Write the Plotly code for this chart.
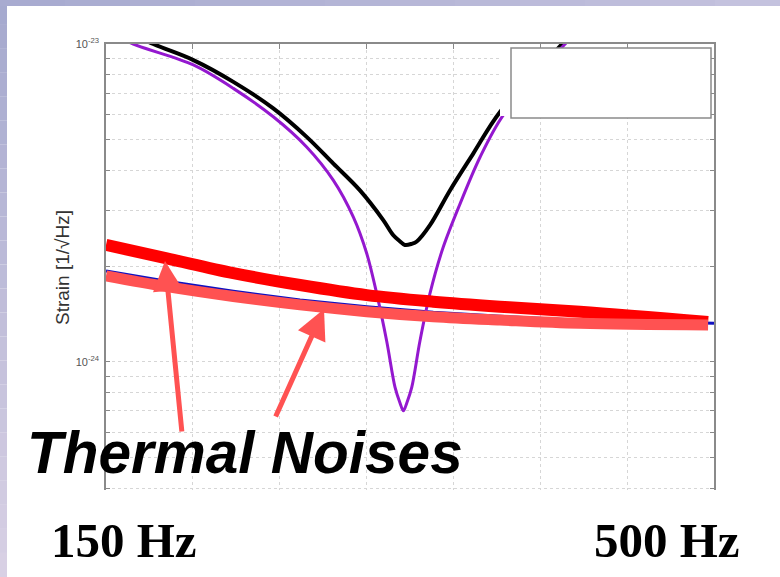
import plotly.graph_objects as go

# ---------------- data ----------------
freq_total = [150, 177.2, 200.3, 223.3, 246.3, 265.5, 280.9, 296.2, 309.6, 315.4, 319.3,
              322.1, 326.0, 328.9, 336.5, 348.0, 361.4, 376.8, 412.5, 430]
strain_total = [1.17e-23, 1.0e-23, 8.9e-24, 7.6e-24, 6.27e-24, 5.1e-24, 4.2e-24, 3.46e-24,
                2.79e-24, 2.5e-24, 2.39e-24, 2.33e-24, 2.35e-24, 2.39e-24, 2.69e-24,
                3.46e-24, 4.52e-24, 6.11e-24, 1.0e-23, 1.3e-23]

freq_notch = [150, 165.7, 200.3, 223.3, 246.3, 265.5, 280.9, 292.4, 300.1, 305.8, 311.6,
              316.4, 319.3, 321.2, 323.1, 326.0, 330.7, 336.5, 344.2, 353.8, 365.3, 378.7,
              414.3, 430]
strain_notch = [1.1e-23, 1.0e-23, 8.59e-24, 7.25e-24, 5.9e-24, 4.74e-24, 3.72e-24, 2.85e-24,
                2.19e-24, 1.64e-24, 1.16e-24, 8.3e-25, 7.4e-25, 7.0e-25, 7.4e-25, 8.3e-25,
                1.16e-24, 1.64e-24, 2.3e-24, 3.14e-24, 4.4e-24, 5.97e-24, 1.0e-23, 1.2e-23]

freq_blue = [150, 185, 223.3, 261.7, 300.1, 338.4, 376.8, 422.9, 500]
strain_blue = [1.93e-24, 1.79e-24, 1.665e-24, 1.565e-24, 1.49e-24, 1.43e-24, 1.39e-24,
               1.35e-24, 1.32e-24]

freq_thermal = [150, 185, 223.3, 261.7, 300.1, 338.4, 376.8, 422.9, 496.6]
thermal_upper = [2.33e-24, 2.115e-24, 1.90e-24, 1.743e-24, 1.62e-24, 1.545e-24, 1.49e-24,
                 1.436e-24, 1.333e-24]
thermal_lower = [1.862e-24, 1.722e-24, 1.603e-24, 1.509e-24, 1.437e-24, 1.385e-24,
                 1.352e-24, 1.32e-24, 1.304e-24]

x_ticks = [150, 200, 250, 300, 350, 400, 450, 500]
y_ticks = [4e-25, 5e-25, 6e-25, 7e-25, 8e-25, 9e-25, 1e-24, 2e-24, 3e-24, 4e-24,
           5e-24, 6e-24, 7e-24, 8e-24, 9e-24, 1e-23]
y_ticktext = ["", "", "", "", "", "", "10<sup>-24</sup>", "", "", "", "", "", "", "", "",
              "10<sup>-23</sup>"]

y_title = "Strain [1/\u221aHz]"
big_label = "Thermal Noises"
left_label = "150 Hz"
right_label = "500 Hz"

# ---------------- layout geometry ----------------
W, H = 780, 577
L, R, T, B = 106, 714, 44, 490
PW, PH = R - L, B - T


def px(x):
    return (x - L) / PW


def py(y):
    return (B - y) / PH


fig = go.Figure()

fig.add_trace(go.Scatter(x=freq_blue, y=strain_blue, mode="lines",
                         line=dict(color="#1010c0", width=3), hoverinfo="skip"))
fig.add_trace(go.Scatter(x=freq_total, y=strain_total, mode="lines",
                         line=dict(color="black", width=4, shape="spline", smoothing=1.0)))
fig.add_trace(go.Scatter(x=freq_notch, y=strain_notch, mode="lines",
                         line=dict(color="#9418cf", width=3, shape="spline", smoothing=0.9)))
fig.add_trace(go.Scatter(x=freq_thermal, y=thermal_upper, mode="lines",
                         line=dict(color="#ff0000", width=12, shape="spline")))
fig.add_trace(go.Scatter(x=freq_thermal, y=thermal_lower, mode="lines",
                         line=dict(color="#ff5252", width=11, shape="spline")))

grid = dict(showgrid=True, gridcolor="#d6d6d6", griddash="dot", gridwidth=1)

fig.update_xaxes(range=[150, 500], side="top", tickvals=x_ticks, showticklabels=False,
                 ticks="inside", ticklen=5, tickcolor="#888", showline=True,
                 linecolor="#8a8a8a", linewidth=1.5, zeroline=False, **grid)
fig.update_yaxes(type="log", range=[-24.404, -23], tickvals=y_ticks, ticktext=y_ticktext,
                 ticks="inside", ticklen=4, tickcolor="#888", showline=True, mirror="ticks",
                 linecolor="#8a8a8a", linewidth=1.5, zeroline=False,
                 tickfont=dict(family="Liberation Sans", size=11, color="#555"),
                 ticklabelstandoff=3, **grid)

shapes = []
# slide decoration: lavender strips (left & top)
n = 24
for i in range(n):
    t = i / (n - 1)
    r = int(166 + t * (216 - 166))
    g = int(170 + t * (208 - 170))
    b = int(207 + t * (228 - 207))
    y0 = H * i / n
    y1 = H * (i + 1) / n
    shapes.append(dict(type="rect", xref="paper", yref="paper", x0=px(0), x1=px(7),
                       y0=py(y1), y1=py(y0), fillcolor=f"rgb({r},{g},{b})",
                       line=dict(width=0), layer="above"))
m = 12
for i in range(m):
    t = i / (m - 1)
    r = int(168 + t * (196 - 168))
    g = int(171 + t * (194 - 171))
    b = int(208 + t * (222 - 208))
    shapes.append(dict(type="rect", xref="paper", yref="paper",
                       x0=px(W * i / m), x1=px(W * (i + 1) / m), y0=py(6), y1=py(0),
                       fillcolor=f"rgb({r},{g},{b})", line=dict(width=0), layer="above"))
# legend box (empty, white)
shapes.append(dict(type="rect", xref="paper", yref="paper", x0=px(500), x1=px(512),
                   y0=py(116), y1=py(46), fillcolor="white", line=dict(width=0),
                   layer="above"))
shapes.append(dict(type="rect", xref="paper", yref="paper", x0=px(511), x1=px(711),
                   y0=py(118), y1=py(48), fillcolor="white",
                   line=dict(color="#8a8a8a", width=1.5), layer="above"))

annotations = [
    dict(text=y_title, textangle=-90, xref="paper", yref="paper", x=px(62), y=py(268),
         showarrow=False, font=dict(family="Liberation Sans", size=19, color="#333"),
         xanchor="center", yanchor="middle"),
    dict(text="", xref="paper", yref="paper", x=px(165), y=py(261), ax=17, ay=172,
         showarrow=True, arrowhead=2, arrowsize=1.2, arrowwidth=5, arrowcolor="#ff5252",
         standoff=0),
    dict(text="", xref="paper", yref="paper", x=px(324), y=py(309), ax=-49, ay=109,
         showarrow=True, arrowhead=2, arrowsize=1.2, arrowwidth=5, arrowcolor="#ff5252",
         standoff=0),
    dict(text=big_label, xref="paper", yref="paper", x=px(245), y=py(452), showarrow=False,
         font=dict(family="Liberation Sans", size=58.5, color="black", weight="bold",
                   style="italic"), xanchor="center", yanchor="middle"),
    dict(text=left_label, xref="paper", yref="paper", x=px(124), y=py(540), showarrow=False,
         font=dict(family="Liberation Serif", size=49, color="black", weight="bold"),
         xanchor="center", yanchor="middle"),
    dict(text=right_label, xref="paper", yref="paper", x=px(667), y=py(540), showarrow=False,
         font=dict(family="Liberation Serif", size=49, color="black", weight="bold"),
         xanchor="center", yanchor="middle"),
]

fig.update_layout(width=W, height=H, margin=dict(l=L, r=W - R, t=T, b=H - B),
                  paper_bgcolor="white", plot_bgcolor="white", showlegend=False,
                  shapes=shapes, annotations=annotations)

fig.write_html("out.html")
